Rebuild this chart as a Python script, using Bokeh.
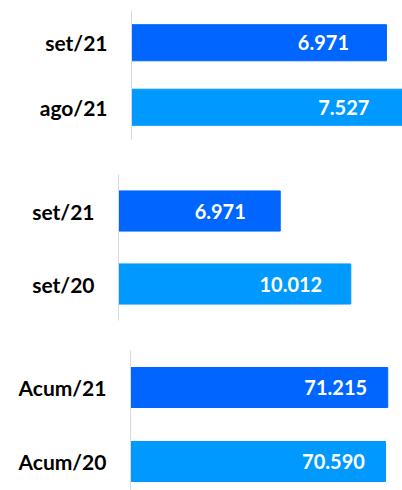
from bokeh.plotting import figure
from bokeh.models import Range1d, FixedTicker, ColumnDataSource
from bokeh.core.properties import value
from bokeh.embed import file_html
from bokeh.resources import INLINE

# Data
cats1 = ["set/21", "ago/21"]
vals1 = [6971, 7527]
cats2 = ["set/21", "set/20"]
vals2 = [6971, 10012]
cats3 = ["Acum/21", "Acum/20"]
vals3 = [71215, 70590]
bar_colors = ["#0066FF", "#0099FF"]


def fmt(v):
    return f"{v:,}".replace(",", ".")


def panel(cats, vals, height, b_top, b_bottom, b_left, x_end, y_bottom, bar_h, lbl_off):
    idx = list(range(len(cats)))
    src = ColumnDataSource(dict(y=idx, v=vals, c=bar_colors[:len(cats)],
                                t=[fmt(v) for v in vals]))
    p = figure(width=402, height=height, output_backend="svg", toolbar_location=None,
               x_axis_location=None, x_range=Range1d(0, x_end),
               y_range=Range1d(y_bottom, -0.5))
    p.min_border_top = b_top
    p.min_border_bottom = b_bottom
    p.min_border_left = b_left
    p.min_border_right = 0
    p.outline_line_color = None
    p.grid.visible = False
    p.hbar(y="y", left=0, right="v", height=bar_h, color="c", source=src)
    p.text(x="v", y="y", text="t", source=src, x_offset=lbl_off,
           text_color="white", text_font=value("Lato"), text_font_style="bold",
           text_font_size="20px", text_align="center", text_baseline="middle")
    ya = p.yaxis[0]
    ya.ticker = FixedTicker(ticks=idx)
    ya.major_label_overrides = {i: c for i, c in zip(idx, cats)}
    ya.axis_line_color = "#d9d9d9"
    ya.axis_line_width = 1
    ya.major_tick_line_color = None
    ya.minor_tick_line_color = None
    ya.major_tick_out = 0
    ya.major_tick_in = 0
    ya.major_label_standoff = 24
    ya.major_label_text_font = "Lato"
    ya.major_label_text_font_style = "bold"
    ya.major_label_text_font_size = "21px"
    ya.major_label_text_color = "#000000"
    return p


p1 = panel(cats1, vals1, 160, 10, 21, 131, 7410, 1.5, 0.56, -63)
p2 = panel(cats2, vals2, 172, 14, 12, 118, 12240, 1.5, 0.55, -60)
p3 = panel(cats3, vals3, 158, 18, 0, 130, 75300, 1.392, 0.54, -52)

open("out.html", "w").write(file_html([p1, p2, p3], INLINE))
